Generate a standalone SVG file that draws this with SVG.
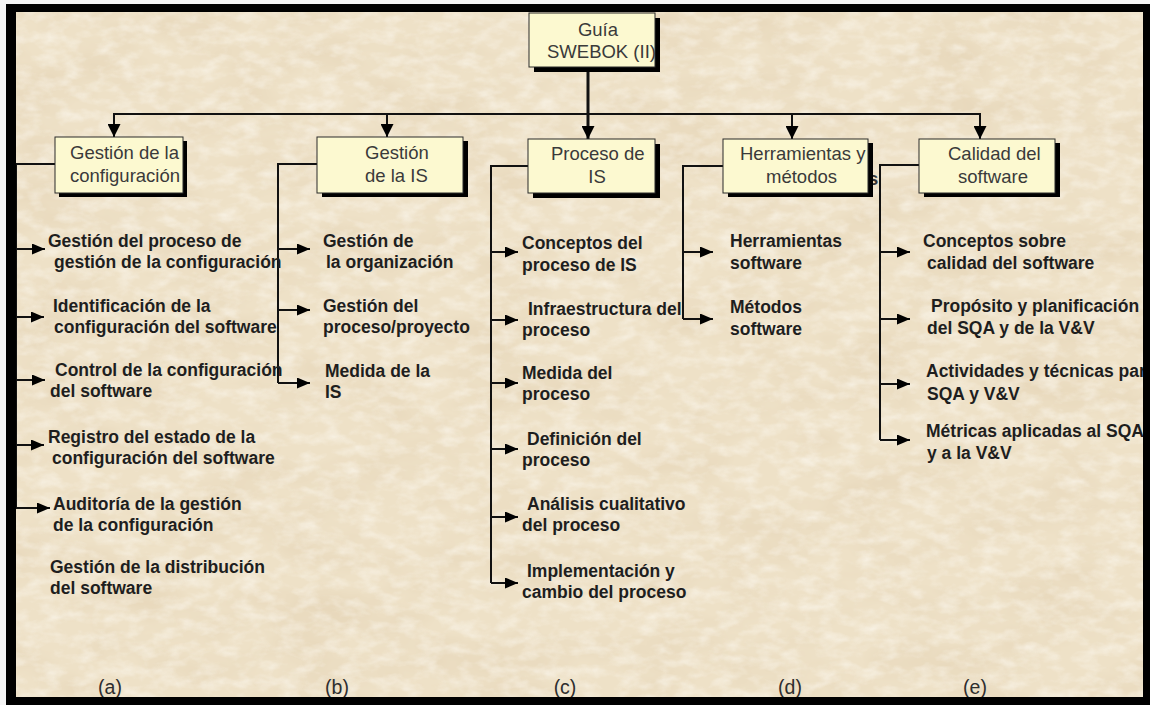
<svg xmlns="http://www.w3.org/2000/svg" width="1150" height="705" viewBox="0 0 1150 705">
  <defs>
    <style>
      .box { fill: #FCF9D0; stroke: #2a2a2a; stroke-width: 1; }
      .shadow { fill: #000; }
      .bt { font-family: "Liberation Sans", Arial, sans-serif; font-size: 18.5px; fill: #3a3a3a; }
      .it { font-family: "Liberation Sans", Arial, sans-serif; font-size: 17.5px; font-weight: bold; fill: #1e1e1e; }
      .lb { font-family: "Liberation Sans", Arial, sans-serif; font-size: 19.5px; fill: #2e2e2e; text-anchor: middle; }
      .wire { fill: none; stroke: #111; stroke-width: 2; }
      .down { fill: none; stroke: #111; stroke-width: 2; marker-end: url(#headDown); }
      .side { fill: none; stroke: #111; stroke-width: 2; marker-end: url(#headSide); }
    </style>
    <marker id="headDown" viewBox="0 0 13 13" refX="13" refY="6.5" markerWidth="13" markerHeight="13" markerUnits="userSpaceOnUse" orient="auto">
      <path d="M0,0 L13,6.5 L0,13 Z" fill="#000"/>
    </marker>
    <marker id="headSide" viewBox="0 0 13 11" refX="13" refY="5.5" markerWidth="13" markerHeight="11" markerUnits="userSpaceOnUse" orient="auto">
      <path d="M0,0 L13,5.5 L0,11 Z" fill="#000"/>
    </marker>
    <filter id="paper" x="0" y="0" width="100%" height="100%">
      <feTurbulence type="fractalNoise" baseFrequency="0.011 0.022" numOctaves="4" seed="7"/>
      <feColorMatrix type="matrix" values="0 0 0 0 0.76  0 0 0 0 0.63  0 0 0 0 0.44  1.1 0 0 0 -0.45"/>
    </filter>
    <filter id="grain" x="0" y="0" width="100%" height="100%">
      <feTurbulence type="fractalNoise" baseFrequency="0.05 0.09" numOctaves="3" seed="2"/>
      <feColorMatrix type="matrix" values="0 0 0 0 0.99  0 0 0 0 0.97  0 0 0 0 0.92  0 1.5 0 0 -0.6"/>
    </filter>
    <clipPath id="cRoot"><rect x="529" y="13" width="126" height="54"/></clipPath>
    <clipPath id="cA"><rect x="55" y="137" width="128" height="56"/></clipPath>
    <clipPath id="cB"><rect x="317" y="137" width="146" height="56"/></clipPath>
    <clipPath id="cC"><rect x="528" y="139" width="127" height="54"/></clipPath>
    <clipPath id="cD"><rect x="723" y="139" width="145" height="54"/></clipPath>
    <clipPath id="cE"><rect x="919" y="139" width="136" height="54"/></clipPath>
  </defs>

  <!-- parchment background -->
  <rect x="0" y="0" width="1150" height="705" fill="#f4f4f4"/>
  <rect x="16" y="12" width="1127" height="686" fill="#EEE1C7"/>
  <rect x="16" y="12" width="1127" height="686" filter="url(#paper)"/>
  <rect x="16" y="12" width="1127" height="686" filter="url(#grain)" opacity="0.7"/>

  <!-- connectors -->
  <g id="connectors">
    <!-- root to the five areas -->
    <line x1="588" y1="67" x2="588" y2="139" class="down" style="stroke-width:3"/>
    <line x1="114" y1="114" x2="980" y2="114" class="wire"/>
    <line x1="114" y1="113" x2="114" y2="137" class="down"/>
    <line x1="387" y1="113" x2="387" y2="137" class="down"/>
    <line x1="792" y1="113" x2="792" y2="139" class="down"/>
    <line x1="980" y1="113" x2="980" y2="139" class="down"/>

    <!-- (a) Gestión de la configuración -->
    <polyline points="55,164 16,164 16,508" class="wire"/>
    <line x1="16" y1="249" x2="45" y2="249" class="side"/>
    <line x1="16" y1="317" x2="44" y2="317" class="side"/>
    <line x1="16" y1="380" x2="45" y2="380" class="side"/>
    <line x1="16" y1="445" x2="44" y2="445" class="side"/>
    <line x1="16" y1="508" x2="50" y2="508" class="side"/>

    <!-- (b) Gestión de la IS -->
    <polyline points="317,164 278,164 278,383" class="wire"/>
    <line x1="278" y1="249" x2="310" y2="249" class="side"/>
    <line x1="278" y1="310" x2="310" y2="310" class="side"/>
    <line x1="278" y1="383" x2="310" y2="383" class="side"/>

    <!-- (c) Proceso de IS -->
    <polyline points="528,166 491,166 491,583" class="wire"/>
    <line x1="491" y1="252" x2="518" y2="252" class="side"/>
    <line x1="491" y1="320" x2="518" y2="320" class="side"/>
    <line x1="491" y1="383" x2="518" y2="383" class="side"/>
    <line x1="491" y1="449" x2="518" y2="449" class="side"/>
    <line x1="491" y1="517" x2="518" y2="517" class="side"/>
    <line x1="491" y1="583" x2="518" y2="583" class="side"/>

    <!-- (d) Herramientas y métodos -->
    <polyline points="723,166 683,166 683,319" class="wire"/>
    <line x1="683" y1="252" x2="713" y2="252" class="side"/>
    <line x1="683" y1="319" x2="713" y2="319" class="side"/>

    <!-- (e) Calidad del software -->
    <polyline points="919,165 880,165 880,440" class="wire"/>
    <line x1="880" y1="252" x2="910" y2="252" class="side"/>
    <line x1="880" y1="319" x2="910" y2="319" class="side"/>
    <line x1="880" y1="384" x2="910" y2="384" class="side"/>
    <line x1="880" y1="440" x2="910" y2="440" class="side"/>
  </g>

  <!-- root node -->
  <g id="node-root">
    <rect x="534" y="18" width="126" height="54" class="shadow"/>
    <rect x="529" y="13" width="126" height="54" class="box"/>
    <g clip-path="url(#cRoot)">
      <text x="598" y="36" class="bt" text-anchor="middle">Guía</text>
      <text x="547" y="58" class="bt">SWEBOK (II)</text>
    </g>
  </g>

  <!-- area (a) -->
  <g id="node-a">
    <rect x="59" y="141" width="128" height="56" class="shadow"/>
    <rect x="55" y="137" width="128" height="56" class="box"/>
    <g clip-path="url(#cA)">
      <text x="70" y="159" class="bt">Gestión de la</text>
      <text x="70" y="182" class="bt">configuración</text>
    </g>
  </g>
  <g id="items-a">
    <text x="48" y="247" class="it">Gestión del proceso de</text>
    <text x="54" y="268" class="it">gestión de la configuración</text>
    <text x="53" y="312" class="it">Identificación de la</text>
    <text x="54" y="333" class="it">configuración del software</text>
    <text x="55" y="376" class="it">Control de la configuración</text>
    <text x="50" y="397" class="it">del software</text>
    <text x="48" y="443" class="it">Registro del estado de la</text>
    <text x="52" y="464" class="it">configuración del software</text>
    <text x="53" y="510" class="it">Auditoría de la gestión</text>
    <text x="53" y="531" class="it">de la configuración</text>
    <text x="50" y="573" class="it">Gestión de la distribución</text>
    <text x="50" y="594" class="it">del software</text>
  </g>

  <!-- area (b) -->
  <g id="node-b">
    <rect x="322" y="141" width="146" height="56" class="shadow"/>
    <rect x="317" y="137" width="146" height="56" class="box"/>
    <g clip-path="url(#cB)">
      <text x="365" y="159" class="bt">Gestión</text>
      <text x="365" y="182" class="bt">de la IS</text>
    </g>
  </g>
  <g id="items-b">
    <text x="323" y="247" class="it">Gestión de</text>
    <text x="326" y="268" class="it">la organización</text>
    <text x="323" y="312" class="it">Gestión del</text>
    <text x="323" y="333" class="it">proceso/proyecto</text>
    <text x="325" y="377" class="it">Medida de la</text>
    <text x="325" y="398" class="it">IS</text>
  </g>

  <!-- area (c) -->
  <g id="node-c">
    <rect x="533" y="144" width="127" height="54" class="shadow"/>
    <rect x="528" y="139" width="127" height="54" class="box"/>
    <g clip-path="url(#cC)">
      <text x="551" y="160" class="bt">Proceso de</text>
      <text x="597" y="183" class="bt" text-anchor="middle">IS</text>
    </g>
  </g>
  <g id="items-c">
    <text x="522" y="249" class="it">Conceptos del</text>
    <text x="522" y="271" class="it">proceso de IS</text>
    <text x="528" y="315" class="it">Infraestructura del</text>
    <text x="522" y="336" class="it">proceso</text>
    <text x="522" y="379" class="it">Medida del</text>
    <text x="522" y="400" class="it">proceso</text>
    <text x="527" y="445" class="it">Definición del</text>
    <text x="522" y="466" class="it">proceso</text>
    <text x="527" y="510" class="it">Análisis cualitativo</text>
    <text x="522" y="531" class="it">del proceso</text>
    <text x="527" y="577" class="it">Implementación y</text>
    <text x="522" y="598" class="it">cambio del proceso</text>
  </g>

  <!-- area (d) -->
  <g id="node-d">
    <text x="868" y="185" class="bt" style="font-weight:bold;fill:#333">s</text>
    <rect x="728" y="143" width="145" height="54" class="shadow"/>
    <rect x="723" y="139" width="145" height="54" class="box"/>
    <g clip-path="url(#cD)">
      <text x="740" y="160" class="bt">Herramientas y</text>
      <text x="766" y="183" class="bt">métodos</text>
    </g>
  </g>
  <g id="items-d">
    <text x="730" y="247" class="it">Herramientas</text>
    <text x="730" y="269" class="it">software</text>
    <text x="730" y="313" class="it">Métodos</text>
    <text x="730" y="335" class="it">software</text>
  </g>

  <!-- area (e) -->
  <g id="node-e">
    <rect x="924" y="143" width="136" height="54" class="shadow"/>
    <rect x="919" y="139" width="136" height="54" class="box"/>
    <g clip-path="url(#cE)">
      <text x="948" y="160" class="bt">Calidad del</text>
      <text x="958" y="183" class="bt">software</text>
    </g>
  </g>
  <g id="items-e">
    <text x="923" y="247" class="it">Conceptos sobre</text>
    <text x="927" y="269" class="it">calidad del software</text>
    <text x="931" y="312" class="it">Propósito y planificación</text>
    <text x="927" y="334" class="it">del SQA y de la V&amp;V</text>
    <text x="926" y="377" class="it">Actividades y técnicas para</text>
    <text x="927" y="400" class="it">SQA y V&amp;V</text>
    <text x="926" y="437" class="it">Métricas aplicadas al SQA</text>
    <text x="927" y="459" class="it">y a la V&amp;V</text>
  </g>

  <!-- column captions -->
  <g id="captions">
    <text x="110" y="694" class="lb">(a)</text>
    <text x="337" y="694" class="lb">(b)</text>
    <text x="565" y="694" class="lb">(c)</text>
    <text x="790" y="694" class="lb">(d)</text>
    <text x="975" y="694" class="lb">(e)</text>
  </g>

  <!-- black frame -->
  <path d="M6,4 H1150 V705 H6 Z M16,12 V697 H1143 V12 Z" fill="#000" fill-rule="evenodd"/>
</svg>
